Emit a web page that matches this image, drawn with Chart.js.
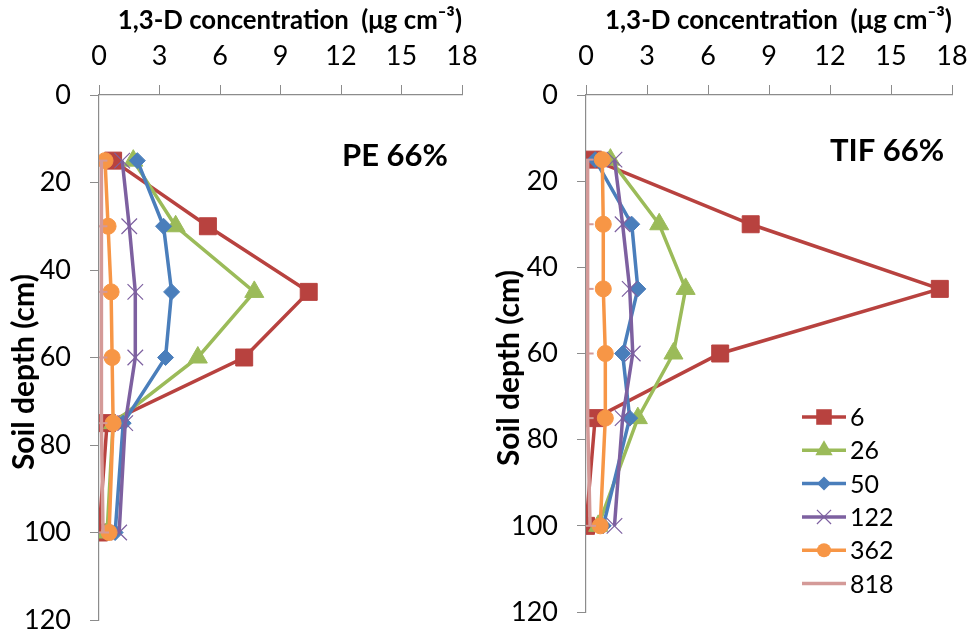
<!DOCTYPE html>
<html>
<head>
<meta charset="utf-8">
<script src="https://cdn.jsdelivr.net/npm/chart.js@4.4.1/dist/chart.umd.min.js"></script>
<style>
  html, body { margin: 0; padding: 0; background: #fff; }
  #wrap { position: relative; width: 970px; height: 633px; }
  .panel { position: absolute; top: 0; height: 633px; width: 485px; }
</style>
</head>
<body>
<div id="wrap">
  <div class="panel" style="left:0"><canvas id="peChart"></canvas></div>
  <div class="panel" style="left:485px"><canvas id="tifChart"></canvas></div>
</div>
<script>
// --- data ---
const depths = [15, 30, 45, 60, 75, 100];
const seriesNames = ['6', '26', '50', '122', '362', '818'];
const xTicks = [0, 3, 6, 9, 12, 15, 18];
const yTicks = [0, 20, 40, 60, 80, 100, 120];

// PE 66%
const pe6   = [0.7, 5.4, 10.4, 7.2, 0.4, 0.0];
const pe26  = [1.7, 3.8, 7.7, 4.9, 0.7, 0.4];
const pe50  = [1.9, 3.2, 3.6, 3.3, 1.2, 0.8];
const pe122 = [1.15, 1.5, 1.8, 1.8, 1.3, 1.0];
const pe362 = [0.3, 0.45, 0.6, 0.65, 0.7, 0.5];
const pe818 = [0.12, 0.12, 0.12, 0.12, 0.12, 0.2];

// TIF 66%
const tif6   = [0.35, 8.1, 17.4, 6.6, 0.45, 0.0];
const tif26  = [1.2, 3.6, 4.9, 4.3, 2.55, 0.6];
const tif50  = [0.45, 2.25, 2.55, 1.8, 2.15, 0.85];
const tif122 = [1.4, 1.8, 2.15, 2.3, 1.8, 1.4];
const tif362 = [0.8, 0.85, 0.85, 0.95, 0.95, 0.7];
const tif818 = [0.08, 0.08, 0.08, 0.08, 0.08, 0.2];

// --- styles ---
const colors = ['#B8423F', '#9BBB59', '#4A7EBB', '#7D60A0', '#F79646', '#D49A98'];
const pointStyles = ['rect', 'triangle', 'rectRot', 'crossRot', 'circle', 'line'];
const pointRadii = [12, 11, 8, 11, 8, 6];
const pointBorders = [1, 1, 1, 1.2, 1, 2];
const inkColor = '#000';
const axisColor = '#8c8c8c';
const fontFamily = 'Lato, "Open Sans", sans-serif';

function makeDatasets(values) {
    return values.map((vals, i) => ({
        label: seriesNames[i],
        data: vals.map((v, j) => ({ x: v, y: depths[j] })),
        showLine: true,
        borderColor: colors[i],
        backgroundColor: colors[i],
        borderWidth: 3.5,
        pointStyle: pointStyles[i],
        pointRadius: pointRadii[i],
        pointBorderWidth: pointBorders[i],
        pointBorderColor: colors[i],
        pointBackgroundColor: colors[i],
        order: 6 - i
    }));
}

// plugin: bold label in the plot + optional legend
const extras = {
    id: 'extras',
    afterDraw(chart, args, opts) {
        const ctx = chart.ctx;
        ctx.save();
        ctx.fillStyle = inkColor;
        ctx.font = 'bold 31px ' + fontFamily;
        ctx.textBaseline = 'middle';
        ctx.textAlign = 'left';
        ctx.fillText(opts.label, opts.labelX, opts.labelY);

        if (opts.legend) {
            const lx = opts.legendX, ly = opts.legendY, gap = 33.3;
            chart.data.datasets.forEach((ds, i) => {
                const y = ly + i * gap;
                ctx.strokeStyle = ds.borderColor;
                ctx.lineWidth = 3.5;
                ctx.beginPath();
                ctx.moveTo(lx, y);
                ctx.lineTo(lx + 44, y);
                ctx.stroke();
                drawMarker(ctx, ds.pointStyle, lx + 22, y, ds.pointRadius - 1, ds.borderColor, ds.pointBorderWidth);
                ctx.fillStyle = inkColor;
                ctx.font = '25px ' + fontFamily;
                ctx.fillText(ds.label, lx + 48, y + 1);
            });
        }
        ctx.restore();
    }
};

function drawMarker(ctx, style, x, y, r, color, bw) {
    ctx.save();
    ctx.fillStyle = color;
    ctx.strokeStyle = color;
    ctx.lineWidth = bw;
    ctx.beginPath();
    if (style === 'rect') {
        const s = r / Math.SQRT2;
        ctx.rect(x - s, y - s, 2 * s, 2 * s);
        ctx.fill();
    } else if (style === 'triangle') {
        ctx.moveTo(x, y - r);
        ctx.lineTo(x + r * 0.866, y + r * 0.5);
        ctx.lineTo(x - r * 0.866, y + r * 0.5);
        ctx.closePath();
        ctx.fill();
    } else if (style === 'rectRot') {
        ctx.moveTo(x, y - r);
        ctx.lineTo(x + r, y);
        ctx.lineTo(x, y + r);
        ctx.lineTo(x - r, y);
        ctx.closePath();
        ctx.fill();
    } else if (style === 'crossRot') {
        const d = r * 0.707;
        ctx.moveTo(x - d, y - d); ctx.lineTo(x + d, y + d);
        ctx.moveTo(x - d, y + d); ctx.lineTo(x + d, y - d);
        ctx.stroke();
    } else if (style === 'circle') {
        ctx.arc(x, y, r, 0, Math.PI * 2);
        ctx.fill();
    } else if (style === 'line') {
        ctx.moveTo(x - r, y); ctx.lineTo(x + r, y);
        ctx.stroke();
    }
    ctx.restore();
}

function makeOptions(cfg) {
    return {
        responsive: true,
        maintainAspectRatio: false,
        animation: false,
        layout: { padding: cfg.padding },
        scales: {
            x: {
                type: 'linear',
                position: 'top',
                min: 0, max: 18,
                afterBuildTicks: (s) => { s.ticks = xTicks.map(v => ({ value: v })); },
                afterFit: (s) => { s.height = cfg.xHeight; s.paddingLeft = 0; s.paddingRight = 0; },
                grid: { drawOnChartArea: false, color: axisColor, tickLength: 10 },
                border: { color: axisColor, width: 1.2 },
                ticks: { color: inkColor, padding: 15, font: { family: fontFamily, size: 27, lineHeight: 1 } },
                title: {
                    display: true,
                    text: '   1,3-D concentration  (\u03bcg cm\u207b\u00b3)',
                    color: inkColor,
                    padding: { top: 4, bottom: 0 },
                    font: { family: fontFamily, size: 27, weight: 'bold', lineHeight: 1.2 }
                }
            },
            y: {
                type: 'linear',
                reverse: true,
                min: 0, max: 120,
                afterBuildTicks: (s) => { s.ticks = yTicks.map(v => ({ value: v })); },
                afterFit: (s) => { s.width = cfg.yWidth; s.paddingTop = 0; s.paddingBottom = 0; },
                grid: { drawOnChartArea: false, color: axisColor, tickLength: 9 },
                border: { color: axisColor, width: 1.2 },
                ticks: { color: inkColor, padding: 19, font: { family: fontFamily, size: 27, lineHeight: 1 } },
                title: {
                    display: true,
                    text: 'Soil depth (cm)    ',
                    color: inkColor,
                    padding: { top: 6, bottom: 0 },
                    font: { family: fontFamily, size: 30, weight: 'bold', lineHeight: 1.2 }
                }
            }
        },
        plugins: {
            legend: { display: false },
            tooltip: { enabled: false },
            extras: cfg.extras
        }
    };
}

new Chart(document.getElementById('peChart').getContext('2d'), {
    type: 'scatter',
    data: { datasets: makeDatasets([pe6, pe26, pe50, pe122, pe362, pe818]) },
    options: makeOptions({
        padding: { left: 0, right: 23, top: 0, bottom: 13 },
        xHeight: 95,
        yWidth: 99,
        extras: { label: 'PE 66%', labelX: 342, labelY: 156, legend: false }
    }),
    plugins: [extras]
});

new Chart(document.getElementById('tifChart').getContext('2d'), {
    type: 'scatter',
    data: { datasets: makeDatasets([tif6, tif26, tif50, tif122, tif362, tif818]) },
    options: makeOptions({
        padding: { left: 0, right: 18, top: 0, bottom: 21 },
        xHeight: 95,
        yWidth: 101,
        extras: { label: 'TIF 66%', labelX: 345, labelY: 151, legend: true, legendX: 317, legendY: 417 }
    }),
    plugins: [extras]
});
</script>
</body>
</html>
